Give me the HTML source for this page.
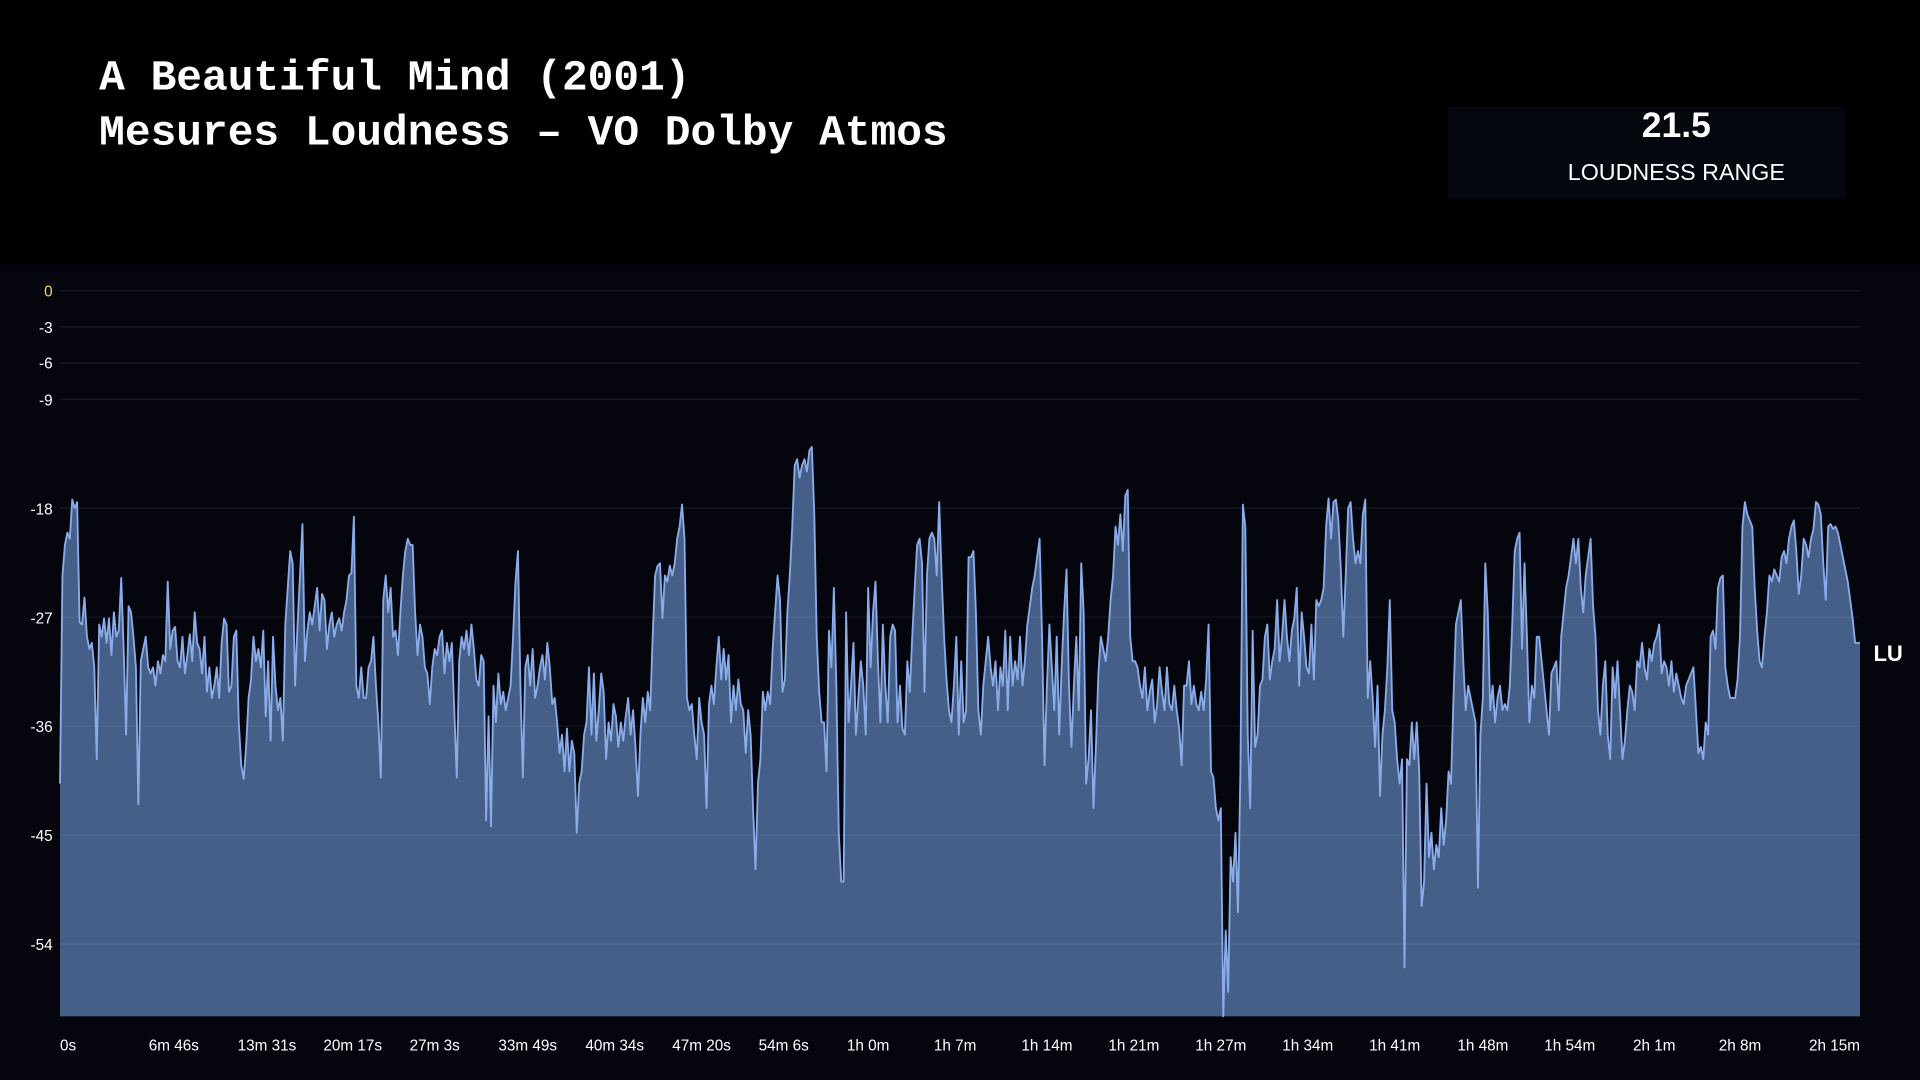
<!DOCTYPE html>
<html><head><meta charset="utf-8"><style>
html,body{margin:0;padding:0;background:#000;width:1920px;height:1080px;overflow:hidden}
svg{display:block}
</style></head><body>
<svg width="1920" height="1080" viewBox="0 0 1568 882" xmlns="http://www.w3.org/2000/svg">
<rect x="0" y="0" width="1568" height="882" fill="#000"/>
<rect x="0" y="216" width="1568" height="666" fill="#05060d"/>
<text x="81" y="73" font-family="Liberation Mono, monospace" font-weight="bold" font-size="35" fill="#fff">A Beautiful Mind (2001)</text>
<text x="81" y="118" font-family="Liberation Mono, monospace" font-weight="bold" font-size="35" fill="#fff">Mesures Loudness – VO Dolby Atmos</text>
<rect x="1182" y="87" width="325" height="75" fill="#05070f"/>
<text x="1369" y="112" text-anchor="middle" font-family="Liberation Sans, sans-serif" font-weight="bold" font-size="29" fill="#fff">21.5</text>
<text x="1369" y="147" text-anchor="middle" font-family="Liberation Sans, sans-serif" font-size="19" fill="#fff">LOUDNESS RANGE</text>
<g stroke="#1a1d29" stroke-width="1">
<line x1="49" x2="1519" y1="237.5" y2="237.5"/><line x1="49" x2="1519" y1="267" y2="267"/><line x1="49" x2="1519" y1="296.5" y2="296.5"/><line x1="49" x2="1519" y1="326" y2="326"/><line x1="49" x2="1519" y1="415" y2="415"/>
</g>
<g font-family="Liberation Sans, sans-serif" font-size="12.5" fill="#fff" text-anchor="end">
<text x="43" y="242" fill="#f5d76e">0</text><text x="43" y="272">-3</text><text x="43" y="301">-6</text><text x="43" y="331">-9</text><text x="43" y="420">-18</text><text x="43" y="509">-27</text><text x="43" y="598">-36</text><text x="43" y="687">-45</text><text x="43" y="776">-54</text>
</g>
<polygon id="area" fill="#465f88" points=""/>
<g stroke="rgba(255,255,255,0.06)" stroke-width="1">
<line x1="49" x2="1519" y1="504" y2="504"/><line x1="49" x2="1519" y1="593" y2="593"/><line x1="49" x2="1519" y1="682" y2="682"/><line x1="49" x2="1519" y1="771" y2="771"/>
</g>
<polyline id="line" fill="none" stroke="#8aadea" stroke-width="1.5" stroke-linejoin="round" points=""/>
<text x="1530" y="540" font-family="Liberation Sans, sans-serif" font-weight="bold" font-size="18" fill="#fff">LU</text>
<g font-family="Liberation Sans, sans-serif" font-size="12.5" fill="#fff" text-anchor="middle">
<text x="49" y="858" text-anchor="start">0s</text><text x="142" y="858">6m 46s</text><text x="218" y="858">13m 31s</text><text x="288" y="858">20m 17s</text><text x="355" y="858">27m 3s</text><text x="431" y="858">33m 49s</text><text x="502" y="858">40m 34s</text><text x="573" y="858">47m 20s</text><text x="640" y="858">54m 6s</text><text x="709" y="858">1h 0m</text><text x="780" y="858">1h 7m</text><text x="855" y="858">1h 14m</text><text x="926" y="858">1h 21m</text><text x="997" y="858">1h 27m</text><text x="1068" y="858">1h 34m</text><text x="1139" y="858">1h 41m</text><text x="1211" y="858">1h 48m</text><text x="1282" y="858">1h 54m</text><text x="1351" y="858">2h 1m</text><text x="1421" y="858">2h 8m</text><text x="1519" y="858" text-anchor="end">2h 15m</text>
</g>
</svg>
<script>
var ys=[640,470,445,435,440,408,415,410,508,510,488,520,530,525,545,620,510,520,505,525,505,535,500,520,515,472,530,600,495,500,520,545,657,540,530,520,545,550,545,560,540,550,535,540,475,530,515,512,540,545,520,550,535,518,540,500,525,530,550,520,565,545,570,560,545,570,525,505,510,565,560,520,515,590,625,636,610,570,555,520,540,530,545,515,585,540,605,520,560,580,570,605,510,480,450,460,560,510,470,428,540,515,500,510,495,480,515,485,490,530,510,500,520,510,505,515,500,490,470,468,422,560,570,545,570,570,545,540,520,560,590,635,490,470,500,480,520,515,535,500,470,450,440,445,445,500,535,510,520,545,550,575,545,530,535,520,515,550,525,540,525,580,635,540,520,530,515,535,510,530,555,560,535,540,670,585,675,560,590,550,575,565,580,570,560,520,475,450,560,635,545,535,560,530,570,560,545,535,555,525,545,575,570,590,615,600,630,595,630,605,615,680,640,630,600,590,545,600,550,605,580,550,565,620,590,605,575,585,610,590,605,585,570,600,580,610,650,600,570,590,565,580,520,470,462,460,505,470,475,462,470,460,440,430,412,440,570,580,575,600,620,570,590,600,660,575,560,575,545,520,555,530,555,535,590,560,580,555,575,580,615,580,600,660,710,640,620,565,580,565,575,530,500,470,490,565,555,500,470,430,380,375,390,380,375,385,368,365,420,520,565,590,590,630,515,545,480,560,680,720,720,500,590,560,525,600,570,540,560,600,480,545,500,475,540,590,510,560,590,520,510,515,590,560,595,600,540,565,520,480,445,440,460,565,470,440,435,440,470,410,470,520,555,580,590,560,520,600,540,590,580,455,455,450,500,580,600,560,540,520,545,560,540,580,545,560,515,580,520,560,540,555,520,560,540,510,495,480,470,455,440,520,625,560,510,545,580,520,600,545,500,465,560,610,560,520,580,460,500,640,620,580,660,610,550,520,530,540,520,490,470,430,445,420,450,405,400,520,540,540,545,560,570,545,580,565,555,590,575,545,565,580,545,575,580,560,580,595,625,560,560,540,575,560,575,580,565,580,555,510,630,635,660,670,660,830,760,810,700,720,680,745,630,412,430,600,660,515,610,600,560,555,520,510,555,540,530,490,540,520,490,520,540,515,505,480,560,500,520,545,550,510,555,490,495,490,480,430,407,440,410,408,425,465,520,470,415,410,440,460,450,460,420,408,570,540,570,610,560,650,600,580,545,490,580,590,620,640,620,790,620,625,590,620,590,630,740,720,640,700,680,710,690,700,660,690,670,630,640,570,510,500,490,540,580,560,570,580,590,725,600,570,460,500,580,560,590,570,560,580,575,580,560,510,450,440,435,530,460,520,590,560,570,520,520,540,560,580,600,550,545,540,580,520,500,480,470,455,440,460,440,480,500,470,455,440,495,520,580,600,560,540,600,620,545,570,540,580,620,605,580,560,565,580,540,545,525,545,555,530,540,525,520,510,550,540,545,560,540,565,550,560,570,575,560,555,550,545,580,615,610,620,590,600,520,515,530,480,472,470,545,560,570,570,570,555,520,430,410,420,425,430,480,515,540,545,520,500,470,475,465,470,475,455,450,460,440,430,425,450,485,470,440,445,455,440,432,410,412,420,460,490,430,428,432,430,435,445,455,465,475,490,505,525];
var pts=[];for(var i=0;i<ys.length;i++){pts.push((49+i*2)+","+ys[i]);}pts.push("1519,525");
var s=pts.join(" ");
document.getElementById("line").setAttribute("points",s);
document.getElementById("area").setAttribute("points",s+" 1519,830 49,830");
</script>
</body></html>
